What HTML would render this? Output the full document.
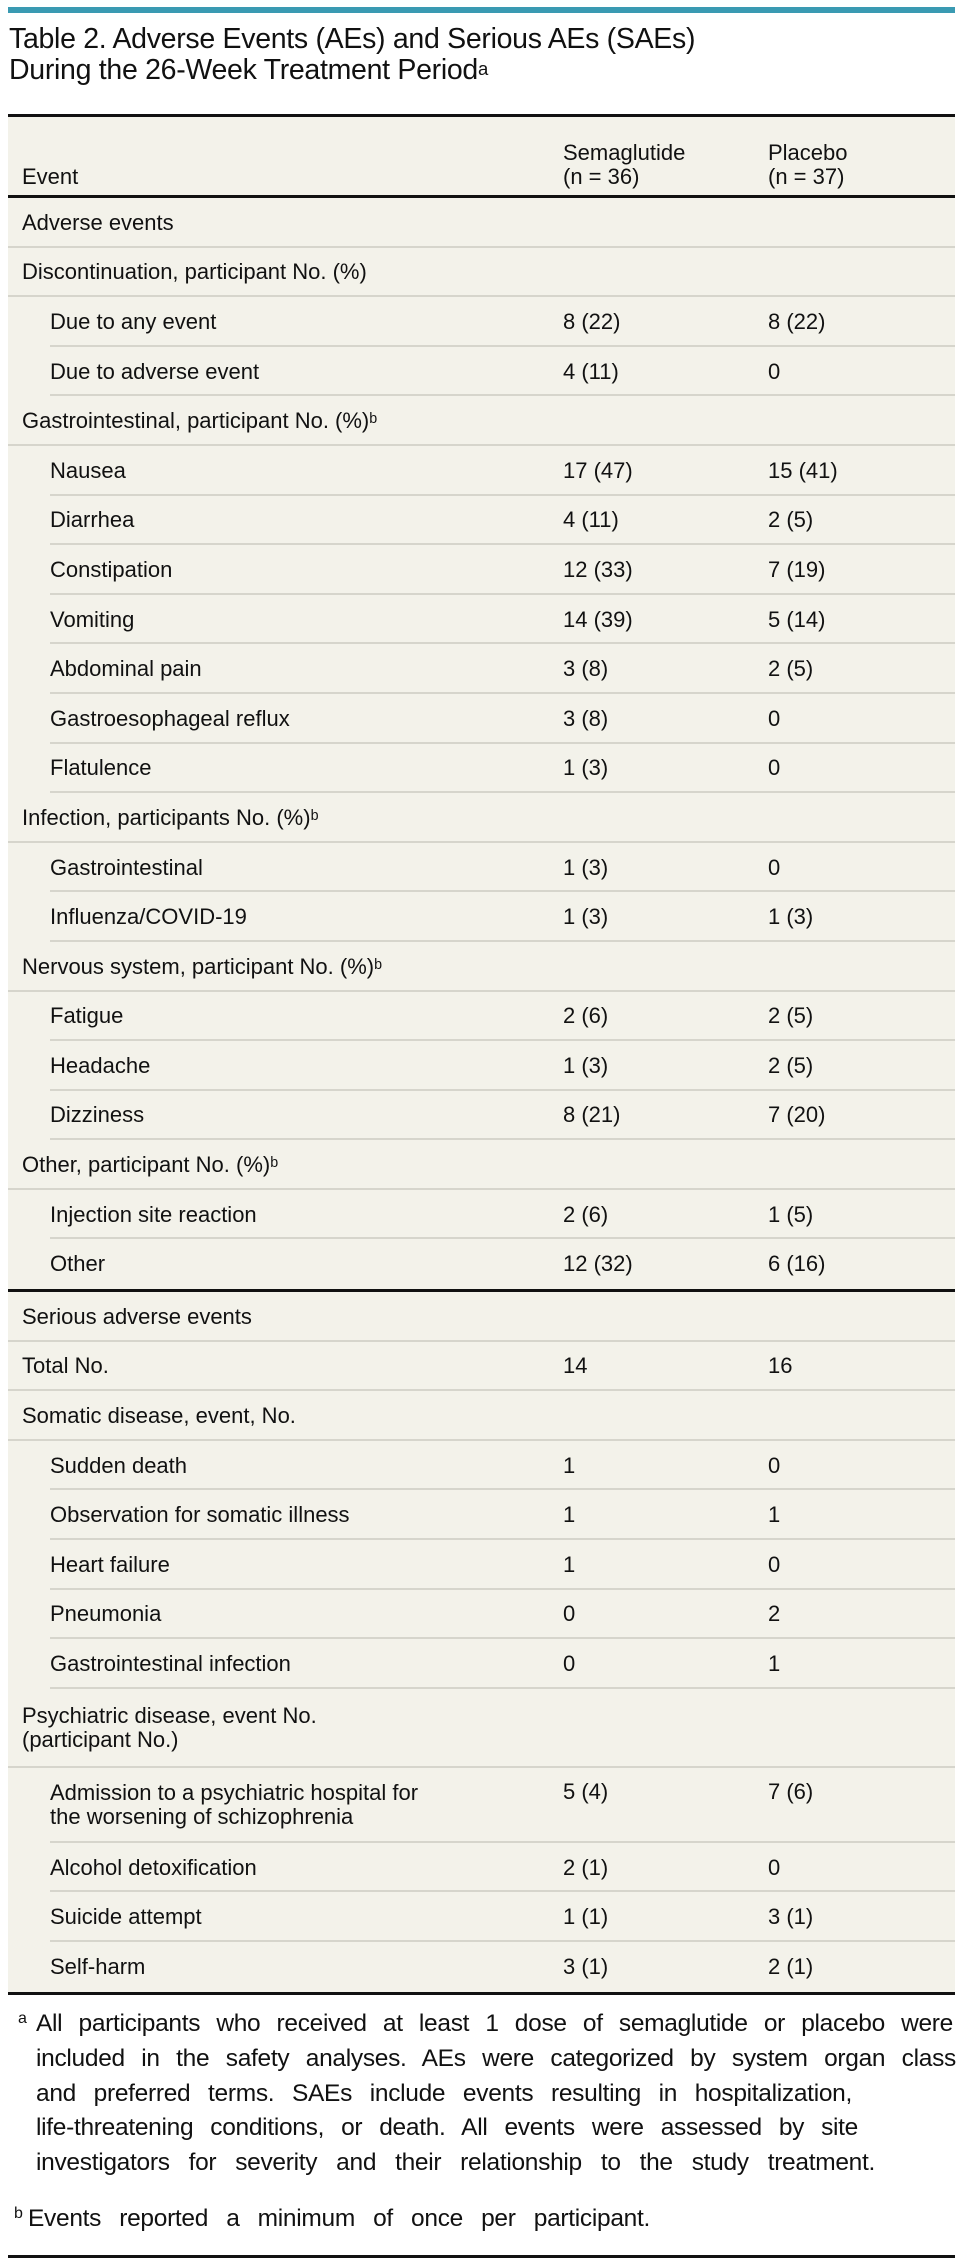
<!DOCTYPE html>
<html><head><meta charset="utf-8"><style>
body{margin:0;width:963px;height:2267px;background:#fff;font-family:"Liberation Sans Narrow","Liberation Sans",sans-serif;color:#111;position:relative;overflow:hidden}
.bar{position:absolute;left:8px;top:7px;width:947px;height:6px;background:#3a9ab2}
.title{position:absolute;left:9px;top:24px;font-size:28.5px;line-height:31px;letter-spacing:-0.3px}
sup{font-size:65%;vertical-align:top;position:relative;top:-2px}
.tbl{position:absolute;left:8px;top:114px;width:947px;background:#f3f2ea;border-top:3px solid #111;border-bottom:3px solid #111}
.hd{height:78px;border-bottom:3px solid #111;position:relative;font-size:22px;line-height:24px}
.hd div{position:absolute;bottom:6px}
.r{position:relative;height:49.6px;font-size:22px}
.r:after{content:"";position:absolute;left:0;right:0;bottom:0;height:2px;background:#d6d5cc}
.r.i:after{left:42px}
.r.last:after{display:none}
.r.thick{border-bottom:3px solid #111}
.r.thick:after{display:none}
.c0,.c1,.c2{position:absolute;top:0;bottom:0;display:flex;align-items:center;line-height:24px}
.c0{left:14px}.i .c0{left:42px}
.c1{left:555px}.c2{left:760px}
.fl{position:absolute;left:36px;font-size:24.5px;line-height:30px;white-space:nowrap;text-align:justify;text-align-last:justify;letter-spacing:-0.3px}
.fs{position:absolute;font-size:16px}
.endl{position:absolute;left:8px;top:2255px;width:947px;height:3px;background:#111}
</style></head><body>
<div class="bar"></div>
<div class="title">Table 2. Adverse Events (AEs) and Serious AEs (SAEs)<br>During the 26-Week Treatment Period<sup>a</sup></div>
<div class="tbl">
<div class="hd"><div style="left:14px">Event</div><div style="left:555px">Semaglutide<br>(n = 36)</div><div style="left:760px">Placebo<br>(n = 37)</div></div>
<div class="r"><div class="c0">Adverse events</div></div>
<div class="r"><div class="c0">Discontinuation, participant No. (%)</div></div>
<div class="r i"><div class="c0">Due to any event</div><div class="c1">8 (22)</div><div class="c2">8 (22)</div></div>
<div class="r i"><div class="c0">Due to adverse event</div><div class="c1">4 (11)</div><div class="c2">0</div></div>
<div class="r"><div class="c0">Gastrointestinal, participant No. (%)<sup>b</sup></div></div>
<div class="r i"><div class="c0">Nausea</div><div class="c1">17 (47)</div><div class="c2">15 (41)</div></div>
<div class="r i"><div class="c0">Diarrhea</div><div class="c1">4 (11)</div><div class="c2">2 (5)</div></div>
<div class="r i"><div class="c0">Constipation</div><div class="c1">12 (33)</div><div class="c2">7 (19)</div></div>
<div class="r i"><div class="c0">Vomiting</div><div class="c1">14 (39)</div><div class="c2">5 (14)</div></div>
<div class="r i"><div class="c0">Abdominal pain</div><div class="c1">3 (8)</div><div class="c2">2 (5)</div></div>
<div class="r i"><div class="c0">Gastroesophageal reflux</div><div class="c1">3 (8)</div><div class="c2">0</div></div>
<div class="r i"><div class="c0">Flatulence</div><div class="c1">1 (3)</div><div class="c2">0</div></div>
<div class="r"><div class="c0">Infection, participants No. (%)<sup>b</sup></div></div>
<div class="r i"><div class="c0">Gastrointestinal</div><div class="c1">1 (3)</div><div class="c2">0</div></div>
<div class="r i"><div class="c0">Influenza/COVID-19</div><div class="c1">1 (3)</div><div class="c2">1 (3)</div></div>
<div class="r"><div class="c0">Nervous system, participant No. (%)<sup>b</sup></div></div>
<div class="r i"><div class="c0">Fatigue</div><div class="c1">2 (6)</div><div class="c2">2 (5)</div></div>
<div class="r i"><div class="c0">Headache</div><div class="c1">1 (3)</div><div class="c2">2 (5)</div></div>
<div class="r i"><div class="c0">Dizziness</div><div class="c1">8 (21)</div><div class="c2">7 (20)</div></div>
<div class="r"><div class="c0">Other, participant No. (%)<sup>b</sup></div></div>
<div class="r i"><div class="c0">Injection site reaction</div><div class="c1">2 (6)</div><div class="c2">1 (5)</div></div>
<div class="r i thick"><div class="c0">Other</div><div class="c1">12 (32)</div><div class="c2">6 (16)</div></div>
<div class="r"><div class="c0">Serious adverse events</div></div>
<div class="r"><div class="c0">Total No.</div><div class="c1">14</div><div class="c2">16</div></div>
<div class="r"><div class="c0">Somatic disease, event, No.</div></div>
<div class="r i"><div class="c0">Sudden death</div><div class="c1">1</div><div class="c2">0</div></div>
<div class="r i"><div class="c0">Observation for somatic illness</div><div class="c1">1</div><div class="c2">1</div></div>
<div class="r i"><div class="c0">Heart failure</div><div class="c1">1</div><div class="c2">0</div></div>
<div class="r i"><div class="c0">Pneumonia</div><div class="c1">0</div><div class="c2">2</div></div>
<div class="r i"><div class="c0">Gastrointestinal infection</div><div class="c1">0</div><div class="c2">1</div></div>
<div class="r" style="height:79px"><div class="c0">Psychiatric disease, event No.<br>(participant No.)</div></div>
<div class="r i" style="height:75px"><div class="c0">Admission to a psychiatric hospital for<br>the worsening of schizophrenia</div><div class="c1" style="align-items:flex-start;padding-top:12px">5 (4)</div><div class="c2" style="align-items:flex-start;padding-top:12px">7 (6)</div></div>
<div class="r i"><div class="c0">Alcohol detoxification</div><div class="c1">2 (1)</div><div class="c2">0</div></div>
<div class="r i"><div class="c0">Suicide attempt</div><div class="c1">1 (1)</div><div class="c2">3 (1)</div></div>
<div class="r i last"><div class="c0">Self-harm</div><div class="c1">3 (1)</div><div class="c2">2 (1)</div></div>
</div>
<div class="fs" style="left:18px;top:2010px">a</div>
<div class="fl" style="top:2009px;width:917px">All participants who received at least 1 dose of semaglutide or placebo were</div>
<div class="fl" style="top:2044px;width:920px">included in the safety analyses. AEs were categorized by system organ class</div>
<div class="fl" style="top:2079px;width:816px">and preferred terms. SAEs include events resulting in hospitalization,</div>
<div class="fl" style="top:2113px;width:822px">life-threatening conditions, or death. All events were assessed by site</div>
<div class="fl" style="top:2148px;width:839px">investigators for severity and their relationship to the study treatment.</div>
<div class="fs" style="left:14px;top:2205px">b</div>
<div class="fl" style="left:28px;top:2204px;width:622px">Events reported a minimum of once per participant.</div>
<div class="endl"></div>
</body></html>
